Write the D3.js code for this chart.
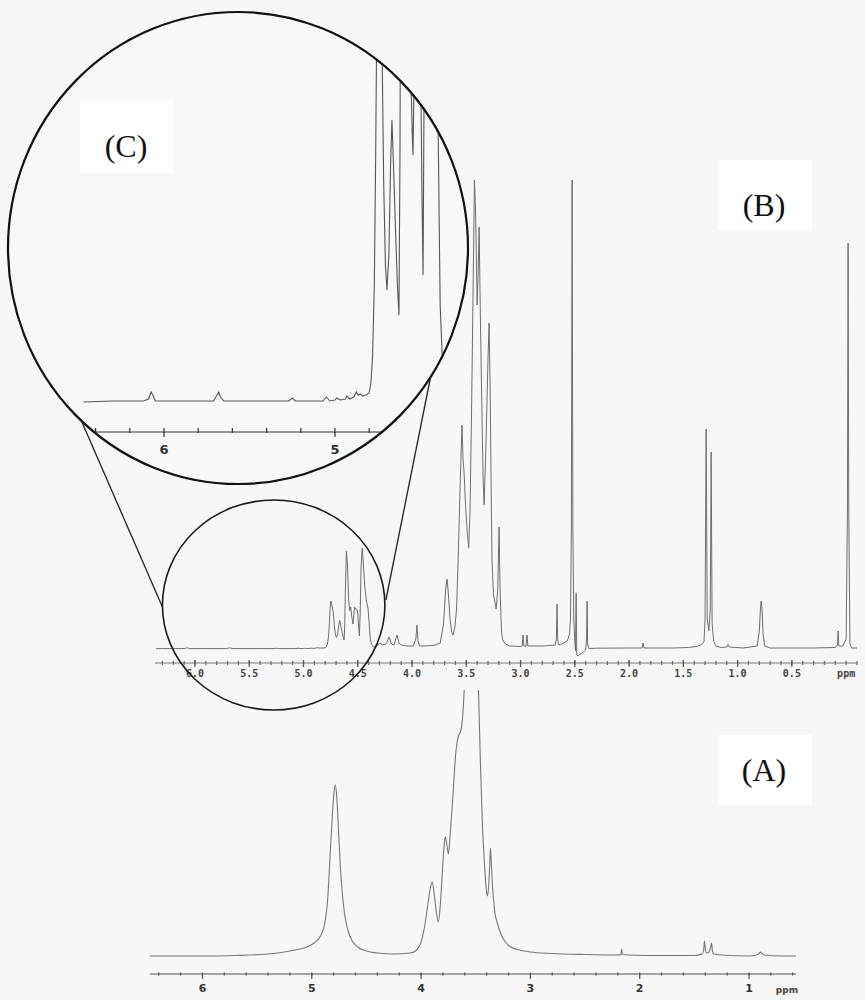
<!DOCTYPE html>
<html>
<head>
<meta charset="utf-8">
<script src="https://cdn.jsdelivr.net/npm/d3@7/dist/d3.min.js"></script>
<style>
  html, body { margin: 0; padding: 0; background: #f7f7f7; }
  svg { display: block; }
</style>
</head>
<body>
<script>
// ---------------- DATA ----------------
// Spectrum (B): [ppm, intensity]
const specB = [
  [6.47,0.3],[6.30,0.4],[6.12,0.4],[6.09,0.6],[6.075,1.3],[6.065,1.0],[6.05,0.4],[5.90,0.4],
  [5.71,0.4],[5.69,1.0],[5.68,1.3],[5.67,0.8],[5.65,0.4],[5.40,0.4],[5.27,0.4],[5.25,0.7],
  [5.23,0.4],[5.07,0.4],[5.05,0.8],[5.03,0.4],[5.00,0.5],[4.99,0.7],[4.97,0.5],[4.94,0.6],
  [4.93,0.9],[4.915,0.6],[4.89,0.8],[4.875,1.3],[4.865,1.0],[4.85,1.1],[4.84,0.9],[4.82,1.0],
  [4.80,1.2],[4.79,2.2],[4.78,5],[4.77,12],[4.762,25],[4.755,40],[4.748,48],[4.735,42],
  [4.725,36],[4.715,22],[4.705,14],[4.696,11.5],[4.685,15],[4.675,24],[4.667,28.5],[4.658,24],
  [4.645,17],[4.635,12],[4.626,9],[4.62,25],[4.614,60],[4.605,98],[4.595,85],[4.585,50],
  [4.575,38],[4.565,42],[4.556,33],[4.548,27],[4.544,25],[4.538,32],[4.53,42],[4.52,40],
  [4.51,40],[4.50,36],[4.492,22],[4.485,13],[4.478,35],[4.47,80],[4.46,101],[4.45,88],
  [4.435,62],[4.42,48],[4.405,40],[4.395,25],[4.385,10],[4.372,4.5],[4.36,2.5],[4.34,2],
  [4.32,3],[4.30,6],[4.27,4],[4.24,5],[4.21,12],[4.19,5],[4.165,4],[4.14,14],[4.12,6],
  [4.10,4],[4.05,3],[3.99,3],[3.965,10],[3.955,24],[3.945,8],[3.93,3],[3.80,3.5],[3.74,6],
  [3.71,25],[3.69,60],[3.677,70],[3.665,55],[3.65,30],[3.635,17],[3.622,14],[3.605,22],
  [3.59,40],[3.575,90],[3.555,170],[3.54,224],[3.53,190],[3.521,177],[3.505,140],[3.49,115],
  [3.478,101],[3.465,140],[3.45,250],[3.435,380],[3.425,469],[3.415,440],[3.40,344],[3.39,380],
  [3.382,422],[3.37,330],[3.355,230],[3.345,170],[3.336,144],[3.32,200],[3.30,290],[3.29,326],
  [3.28,260],[3.27,150],[3.263,89],[3.25,55],[3.225,40],[3.21,60],[3.198,122],[3.188,55],
  [3.175,16],[3.165,9],[3.14,5],[3.10,3],[3.00,2.5],[2.985,3],[2.977,14],[2.97,3],[2.95,3],
  [2.94,14],[2.933,3],[2.80,3],[2.68,4],[2.67,10],[2.664,45],[2.658,10],[2.65,4],[2.62,5],
  [2.60,6],[2.57,8],[2.55,14],[2.54,30],[2.532,120],[2.525,469],[2.518,120],[2.51,30],
  [2.50,8],[2.494,-2],[2.488,56],[2.482,-6],[2.47,-7],[2.45,-5],[2.42,-3],[2.40,-1],
  [2.392,10],[2.387,48],[2.382,5],[2.37,0.5],[2.30,0.8],[2.00,1],[1.88,1],[1.871,6],
  [1.862,1],[1.60,1],[1.45,1.5],[1.38,2.5],[1.34,4],[1.31,7],[1.30,30],[1.29,220],[1.28,30],
  [1.265,18],[1.252,40],[1.244,197],[1.235,25],[1.22,8],[1.20,3],[1.15,1.5],[1.10,2],
  [1.088,4.5],[1.075,2],[0.95,1],[0.82,3],[0.80,18],[0.79,40],[0.783,48],[0.775,40],
  [0.765,15],[0.75,3],[0.70,1],[0.30,1],[0.10,1.5],[0.08,4],[0.074,18],[0.068,3],[0.03,3],
  [0.00,10],[-0.012,140],[-0.018,406],[-0.024,140],[-0.035,5],[-0.05,1],[-0.10,1]
];

// Spectrum (A): [ppm, intensity]
const specA = [
  [6.48,0],[6.00,0],[5.70,0.5],[5.40,2],[5.20,5],[5.05,9],[4.98,13],[4.92,20],[4.88,33],
  [4.855,56],[4.835,95],[4.815,135],[4.798,162],[4.785,171],[4.772,160],[4.755,125],[4.74,92],
  [4.72,62],[4.70,42],[4.67,26],[4.63,15],[4.58,9],[4.50,5],[4.40,3],[4.25,2],[4.10,3],
  [4.04,6],[4.00,14],[3.97,28],[3.94,50],[3.915,68],[3.898,74],[3.88,62],[3.86,44],[3.842,34],
  [3.825,50],[3.805,85],[3.785,115],[3.777,119],[3.765,112],[3.75,102],[3.735,120],[3.715,150],
  [3.70,175],[3.685,200],[3.67,214],[3.655,221],[3.64,224],[3.622,236],[3.605,266],[3.58,320],
  [3.55,350],[3.52,345],[3.495,310],[3.475,266],[3.458,196],[3.44,135],[3.42,92],[3.405,68],
  [3.393,60],[3.382,70],[3.372,92],[3.365,108],[3.357,92],[3.348,72],[3.338,58],[3.328,46],
  [3.30,32],[3.27,22],[3.23,14],[3.18,9],[3.10,6],[3.00,4],[2.80,2.5],[2.50,1.5],[2.20,1],
  [2.172,1.5],[2.165,7],[2.158,1.5],[2.10,1],[1.80,0.5],[1.50,0.5],[1.43,2],[1.415,6],
  [1.407,15],[1.398,6],[1.385,3],[1.365,4],[1.352,8],[1.343,13],[1.334,5],[1.32,2],[1.25,1],
  [1.00,0],[0.93,1],[0.91,2.5],[0.895,4],[0.88,2.5],[0.86,1],[0.70,0],[0.57,0]
];

// Axis ticks (ppm)
const ticksB = [6.0, 5.5, 5.0, 4.5, 4.0, 3.5, 3.0, 2.5, 2.0, 1.5, 1.0, 0.5];
const ticksA = [6, 5, 4, 3, 2, 1];
const ticksC = [6, 5];
const panelLabels = ["(A)", "(B)", "(C)"];
const unitLabel = "ppm";
const zoomRange = [6.3, 4.25]; // ppm region magnified in (C)

// ---------------- LAYOUT ----------------
const W = 865, H = 1000;
const svg = d3.select("body").append("svg").attr("width", W).attr("height", H);
svg.append("rect").attr("width", W).attr("height", H).attr("fill", "#f7f7f7");

const defs = svg.append("defs");

// Scales
const xB = d3.scaleLinear().domain([6.35, -0.1]).range([157, 857]);
const yB = d3.scaleLinear().domain([0, 470]).range([649, 179]);
const xA = d3.scaleLinear().domain([6.48, 0.57]).range([150, 796]);
const yA = d3.scaleLinear().domain([0, 266]).range([956, 690]);
const xC = d3.scaleLinear().domain([6.47, 4.2]).range([83.6, 471.8]);
const yC = d3.scaleLinear().domain([0, 47]).range([405, -65]);

const big = {cx: 238, cy: 248, rx: 230, ry: 236};

defs.append("clipPath").attr("id", "clipB").append("rect")
  .attr("x", 156).attr("y", 0).attr("width", 704).attr("height", 662);
defs.append("clipPath").attr("id", "clipA").append("rect")
  .attr("x", 149).attr("y", 690).attr("width", 652).attr("height", 280);
defs.append("clipPath").attr("id", "clipC").append("ellipse")
  .attr("cx", big.cx).attr("cy", big.cy).attr("rx", big.rx - 1).attr("ry", big.ry - 1);

const fmt1 = d3.format(".1f");

// ---------------- PANEL B ----------------
const gB = svg.append("g");
gB.append("path")
  .datum(specB)
  .attr("clip-path", "url(#clipB)")
  .attr("fill", "none")
  .attr("stroke", "#6e6e6e")
  .attr("stroke-width", 1)
  .attr("d", d3.line().x(d => xB(d[0])).y(d => yB(d[1])).curve(d3.curveLinear));

// B axis
const axB = 663;
gB.append("line").attr("x1", 155).attr("x2", 857).attr("y1", axB).attr("y2", axB)
  .attr("stroke", "#7a7a7a").attr("stroke-width", 1.2);
const minorB = d3.range(63, -2, -1).map(v => v / 10);
gB.selectAll(".mB").data(minorB).join("line")
  .attr("x1", d => xB(d)).attr("x2", d => xB(d))
  .attr("y1", axB - 2).attr("y2", axB + 2)
  .attr("stroke", "#666").attr("stroke-width", 1.2);
gB.selectAll(".MB").data(ticksB).join("line")
  .attr("x1", d => xB(d)).attr("x2", d => xB(d))
  .attr("y1", axB - 3).attr("y2", axB + 4)
  .attr("stroke", "#555").attr("stroke-width", 1.2);
gB.selectAll(".tB").data(ticksB).join("text")
  .attr("x", d => xB(d)).attr("y", axB + 14)
  .attr("text-anchor", "middle")
  .attr("font-family", "DejaVu Sans Mono, monospace").attr("font-weight", "bold")
  .attr("font-size", 10).attr("fill", "#444")
  .text(d => fmt1(d));
gB.append("text").attr("x", xB(0)).attr("y", axB + 14)
  .attr("text-anchor", "middle")
  .attr("font-family", "DejaVu Sans Mono, monospace").attr("font-weight", "bold")
  .attr("font-size", 10).attr("fill", "#444").text(unitLabel);

// ---------------- PANEL A ----------------
const gA = svg.append("g");
gA.append("path")
  .datum(specA)
  .attr("clip-path", "url(#clipA)")
  .attr("fill", "none")
  .attr("stroke", "#777")
  .attr("stroke-width", 1.1)
  .attr("d", d3.line().x(d => xA(d[0])).y(d => yA(d[1])).curve(d3.curveMonotoneX));

const axA = 974;
gA.append("line").attr("x1", 150).attr("x2", 796).attr("y1", axA).attr("y2", axA)
  .attr("stroke", "#888").attr("stroke-width", 1.3);
const minorA = d3.range(32, 2, -1).map(v => v / 5);
gA.selectAll(".mA").data(minorA).join("line")
  .attr("x1", d => xA(d)).attr("x2", d => xA(d))
  .attr("y1", axA - 1.5).attr("y2", axA + 1.5)
  .attr("stroke", "#555").attr("stroke-width", 1.3);
gA.selectAll(".MA").data(ticksA).join("line")
  .attr("x1", d => xA(d)).attr("x2", d => xA(d))
  .attr("y1", axA - 1).attr("y2", axA + 5)
  .attr("stroke", "#555").attr("stroke-width", 1.2);
gA.selectAll(".tA").data(ticksA).join("text")
  .attr("x", d => xA(d)).attr("y", axA + 18)
  .attr("text-anchor", "middle")
  .attr("font-family", "DejaVu Sans, sans-serif").attr("font-weight", "bold")
  .attr("font-size", 11).attr("fill", "#333")
  .text(d => d);
gA.append("text").attr("x", 787).attr("y", axA + 19)
  .attr("text-anchor", "middle")
  .attr("font-family", "DejaVu Sans, sans-serif").attr("font-weight", "bold")
  .attr("font-size", 9).attr("fill", "#444").text(unitLabel);

// ---------------- ZOOM ANNOTATION ----------------
const smallCx = (xB(zoomRange[0]) + xB(zoomRange[1])) / 2;
const smallRx = (xB(zoomRange[1]) - xB(zoomRange[0])) / 2;
const smallCy = yB(44), smallRy = 105;

// connecting lines (tangents)
const tanL = [[78, 413], [smallCx - smallRx, smallCy + 2]];
const tanR = [[431, 375], [smallCx + smallRx + 1, smallCy - 5]];
[tanL, tanR].forEach(t => {
  svg.append("line")
    .attr("x1", t[0][0]).attr("y1", t[0][1]).attr("x2", t[1][0]).attr("y2", t[1][1])
    .attr("stroke", "#222").attr("stroke-width", 1.3);
});

svg.append("ellipse")
  .attr("cx", smallCx).attr("cy", smallCy).attr("rx", smallRx).attr("ry", smallRy)
  .attr("fill", "none").attr("stroke", "#1a1a1a").attr("stroke-width", 1.6);

// ---------------- PANEL C (magnified) ----------------
const gC = svg.append("g").attr("clip-path", "url(#clipC)");
gC.append("ellipse")
  .attr("cx", big.cx).attr("cy", big.cy).attr("rx", big.rx).attr("ry", big.ry)
  .attr("fill", "#f8f8f8");
gC.append("path")
  .datum(specB)
  .attr("fill", "none")
  .attr("stroke", "#555")
  .attr("stroke-width", 1.1)
  .attr("d", d3.line().x(d => xC(d[0])).y(d => yC(d[1])).curve(d3.curveLinear));

const axC = 432;
gC.append("line").attr("x1", 60).attr("x2", 470).attr("y1", axC).attr("y2", axC)
  .attr("stroke", "#333").attr("stroke-width", 1.2);
const minorC = d3.range(32, 20, -1).map(v => v / 5);
gC.selectAll(".mC").data(minorC).join("line")
  .attr("x1", d => xC(d)).attr("x2", d => xC(d))
  .attr("y1", axC - 4).attr("y2", axC + 1)
  .attr("stroke", "#333").attr("stroke-width", 1.2);
gC.selectAll(".MC").data(ticksC).join("line")
  .attr("x1", d => xC(d)).attr("x2", d => xC(d))
  .attr("y1", axC).attr("y2", axC + 5)
  .attr("stroke", "#333").attr("stroke-width", 1.2);
gC.selectAll(".tC").data(ticksC).join("text")
  .attr("x", d => xC(d)).attr("y", axC + 22)
  .attr("text-anchor", "middle")
  .attr("font-family", "DejaVu Sans, sans-serif").attr("font-weight", "bold")
  .attr("font-size", 13).attr("fill", "#333")
  .text(d => d);

svg.append("ellipse")
  .attr("cx", big.cx).attr("cy", big.cy).attr("rx", big.rx).attr("ry", big.ry)
  .attr("fill", "none").attr("stroke", "#111").attr("stroke-width", 2.2);

// ---------------- PANEL LABELS ----------------
const labelPos = {
  "(A)": {bx: 718, by: 735, bw: 94, bh: 70, tx: 764, ty: 781},
  "(B)": {bx: 718, by: 160, bw: 94, bh: 70, tx: 764, ty: 216},
  "(C)": {bx: 80, by: 100, bw: 93, bh: 73, tx: 126, ty: 157}
};
panelLabels.forEach(l => {
  const p = labelPos[l];
  svg.append("rect").attr("x", p.bx).attr("y", p.by).attr("width", p.bw).attr("height", p.bh)
    .attr("fill", "#ffffff");
  svg.append("text").attr("x", p.tx).attr("y", p.ty).attr("text-anchor", "middle")
    .attr("font-family", "Liberation Serif, Times New Roman, serif")
    .attr("font-size", 32).attr("fill", "#111").text(l);
});
</script>
</body>
</html>
